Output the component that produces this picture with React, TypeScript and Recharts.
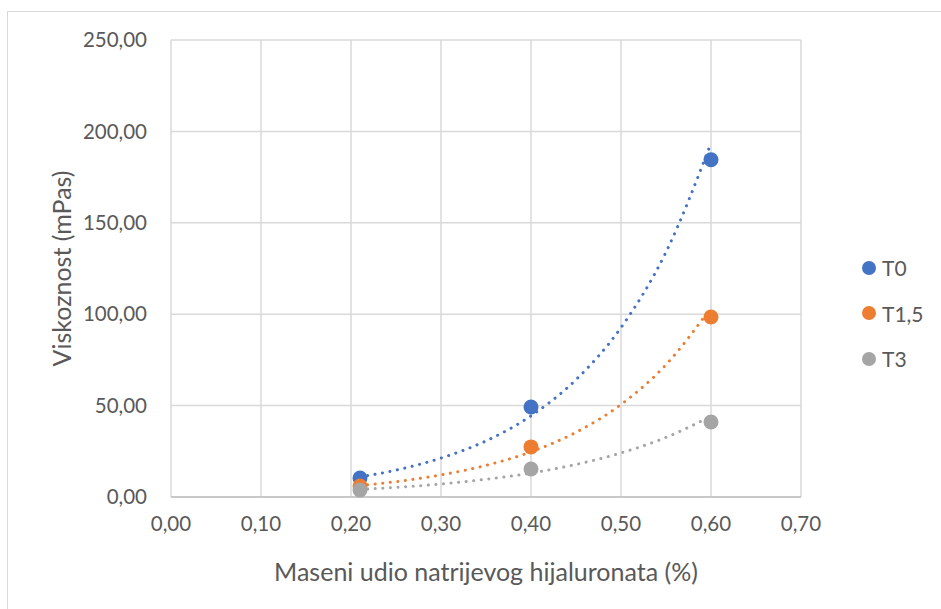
import {
  ComposedChart,
  Line,
  Scatter,
  XAxis,
  YAxis,
  CartesianGrid,
} from 'recharts'

const xTicks = [0, 0.1, 0.2, 0.3, 0.4, 0.5, 0.6, 0.7]
const yTicks = [0, 50, 100, 150, 200, 250]

const seriesNames = ['T0', 'T1,5', 'T3']
const seriesColors = ['#4472C4', '#ED7D31', '#A5A5A5']

// measured points
const t0Points = [
  { x: 0.21, y: 10.4 },
  { x: 0.4, y: 49.2 },
  { x: 0.6, y: 184.5 },
]
const t15Points = [
  { x: 0.21, y: 6.0 },
  { x: 0.4, y: 27.4 },
  { x: 0.6, y: 98.5 },
]
const t3Points = [
  { x: 0.21, y: 3.8 },
  { x: 0.4, y: 15.3 },
  { x: 0.6, y: 41.0 },
]

// exponential trendlines
const t0Trend = [
  { x: 0.21, y: 11.0 },
  { x: 0.25, y: 14.7 },
  { x: 0.3, y: 21.3 },
  { x: 0.35, y: 30.7 },
  { x: 0.4, y: 44.4 },
  { x: 0.45, y: 64.2 },
  { x: 0.5, y: 92.7 },
  { x: 0.55, y: 134.0 },
  { x: 0.6, y: 193.6 },
]
const t15Trend = [
  { x: 0.21, y: 6.3 },
  { x: 0.25, y: 8.4 },
  { x: 0.3, y: 12.1 },
  { x: 0.35, y: 17.3 },
  { x: 0.4, y: 24.7 },
  { x: 0.45, y: 35.4 },
  { x: 0.5, y: 50.6 },
  { x: 0.55, y: 72.4 },
  { x: 0.6, y: 103.6 },
]
const t3Trend = [
  { x: 0.21, y: 4.1 },
  { x: 0.25, y: 5.3 },
  { x: 0.3, y: 7.1 },
  { x: 0.35, y: 9.7 },
  { x: 0.4, y: 13.1 },
  { x: 0.45, y: 17.8 },
  { x: 0.5, y: 24.1 },
  { x: 0.55, y: 32.6 },
  { x: 0.6, y: 44.2 },
]

const points = [t0Points, t15Points, t3Points]
const trends = [t0Trend, t15Trend, t3Trend]

const FONT = 'Lato, "Open Sans", sans-serif'
const TEXT = '#595959'

const fmt = (v: number, d: number) => v.toFixed(d).replace('.', ',')

function Dot(props: any) {
  const { cx, cy, fill } = props
  if (cx == null || cy == null) return null
  return <circle cx={cx} cy={cy} r={7.5} fill={fill} />
}

function LegendBox() {
  return (
    <div style={{
      position: 'absolute', left: 862, top: 245,
      fontFamily: FONT, fontSize: 21, color: TEXT,
    }}>
      {seriesNames.map((n, i) => (
        <div key={n} style={{ display: 'flex', alignItems: 'center', height: 45.5 }}>
          <span style={{
            width: 14, height: 14, borderRadius: '50%',
            background: seriesColors[i], marginRight: 6, display: 'inline-block',
          }} />
          {n}
        </div>
      ))}
    </div>
  )
}

export default function App() {
  return (
    <div style={{ position: 'absolute', left: 0, top: 0, width: 941, height: 609, background: '#fff' }}>
      <div style={{
        position: 'absolute', left: 7, top: 11, width: 934, height: 598,
        borderTop: '1px solid #d9d9d9', borderLeft: '1px solid #d9d9d9',
      }} />
      <ComposedChart
        width={941}
        height={609}
        margin={{ top: 40, right: 140, bottom: 0, left: 0 }}
        style={{ position: 'absolute', left: 0, top: 0, fontFamily: FONT }}
      >
        <CartesianGrid stroke="#d9d9d9" strokeWidth={1.5} />
        <XAxis
          type="number"
          dataKey="x"
          domain={[0, 0.7]}
          ticks={xTicks}
          tickFormatter={(v: number) => fmt(v, 2)}
          height={112}
          tickLine={false}
          tickSize={0}
          tickMargin={19}
          axisLine={{ stroke: '#bfbfbf', strokeWidth: 1.5 }}
          tick={{ fill: TEXT, fontSize: 20.5, fontFamily: FONT }}
          label={{
            value: 'Maseni udio natrijevog hijaluronata (%)',
            position: 'insideBottom',
            offset: 28,
            fill: TEXT,
            fontSize: 25,
            fontFamily: FONT,
          }}
          allowDuplicatedCategory={false}
        />
        <YAxis
          type="number"
          dataKey="y"
          domain={[0, 250]}
          ticks={yTicks}
          tickFormatter={(v: number) => fmt(v, 2)}
          width={171}
          tickLine={false}
          axisLine={false}
          tickSize={0}
          tickMargin={24}
          tick={{ fill: TEXT, fontSize: 20.5, fontFamily: FONT }}
          label={{
            value: 'Viskoznost (mPas)',
            angle: -90,
            position: 'insideLeft',
            offset: 62,
            fill: TEXT,
            fontSize: 25,
            fontFamily: FONT,
            style: { textAnchor: 'middle' },
          }}
        />
        {trends.map((t, i) => (
          <Line
            key={'trend' + i}
            data={t}
            dataKey="y"
            type="monotone"
            stroke={seriesColors[i]}
            strokeWidth={3}
            strokeDasharray="0.1 7.5"
            strokeLinecap="round"
            dot={false}
            activeDot={false}
            legendType="none"
            isAnimationActive={false}
          />
        ))}
        {points.map((p, i) => (
          <Scatter
            key={'pts' + i}
            name={seriesNames[i]}
            data={p}
            dataKey="y"
            fill={seriesColors[i]}
            shape={<Dot />}
            isAnimationActive={false}
          />
        ))}
      </ComposedChart>
      <LegendBox />
    </div>
  )
}
